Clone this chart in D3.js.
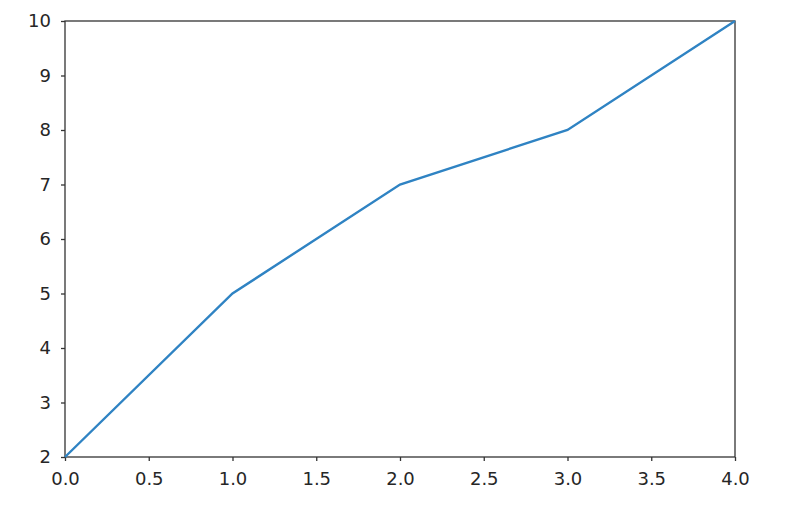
<!DOCTYPE html>
<html lang="en">
<head>
<meta charset="utf-8">
<script src="https://d3js.org/d3.v7.min.js"></script>
<style>
  body { margin: 0; background: white; }
  .axis path, .axis line { stroke: #333; stroke-width: 1.3px; }
  .axis text { fill: #262626; font-family: 'DejaVu Sans', sans-serif; font-size: 18px; }
  .line { fill: none; stroke: #2f83c3; stroke-width: 2.4px; }
</style>
</head>
<body>
<svg width="796" height="516"></svg>
<script>
var xValues = [0, 1, 2, 3, 4];
var yValues = [2, 5, 7, 8, 10];
var xTicks = [0, 0.5, 1, 1.5, 2, 2.5, 3, 3.5, 4];
var yTicks = [2, 3, 4, 5, 6, 7, 8, 9, 10];

var svg = d3.select("svg"),
    margin = {top: 21, right: 61, bottom: 59, left: 65},
    width = +svg.attr("width") - margin.left - margin.right,
    height = +svg.attr("height") - margin.top - margin.bottom;

var g = svg.append("g").attr("transform", "translate(" + margin.left + "," + margin.top + ")");

var x = d3.scaleLinear().domain([0, 4]).range([0, width]);
var y = d3.scaleLinear().domain([2, 10]).range([height, 0]);

// frame
g.append("rect")
    .attr("width", width).attr("height", height)
    .attr("fill", "none").attr("stroke", "#333").attr("stroke-width", 1.3);

var xAxis = g.append("g")
    .attr("class", "axis")
    .attr("transform", "translate(0," + height + ")")
    .call(d3.axisBottom(x).tickValues(xTicks).tickFormat(d3.format(".1f")).tickSize(4).tickPadding(11));
xAxis.select(".domain").remove();

var yAxis = g.append("g")
    .attr("class", "axis")
    .call(d3.axisLeft(y).tickValues(yTicks).tickFormat(d3.format("d")).tickSize(4).tickPadding(10));
yAxis.select(".domain").remove();

svg.selectAll(".axis").attr("font-family", "DejaVu Sans").attr("font-size", 18);

var line = d3.line()
    .x((d, i) => x(xValues[i]))
    .y(d => y(d));

g.append("path")
    .datum(yValues)
    .attr("class", "line")
    .attr("d", line);
</script>
</body>
</html>
